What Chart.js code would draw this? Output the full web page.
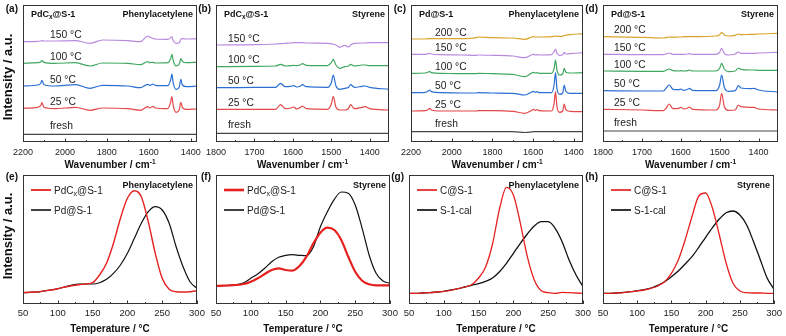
<!DOCTYPE html>
<html>
<head>
<meta charset="utf-8">
<script src="https://cdn.jsdelivr.net/npm/chart.js@4.4.1/dist/chart.umd.min.js"></script>
<style>
  html, body { margin: 0; padding: 0; background: #fff; }
  #fig { position: relative; width: 786px; height: 336px; overflow: hidden; }
  #fig canvas { position: absolute; left: 0; top: 0; }
</style>
</head>
<body>
<div id="fig"></div>
<script>
// ---- IR spectra (a)-(d): wavenumber / cm-1, stacked intensity (a.u.) ----
const wnA = [2200, 2130, 2115, 2110, 2100, 2050, 1950, 1880, 1820, 1700, 1640, 1605, 1595, 1580, 1570, 1510, 1495, 1490, 1483, 1470, 1455, 1447, 1440, 1420, 1370];
const aFresh = [7.7, 7.7, 7.7, 7.7, 7.7, 7.7, 7.7, 7.7, 7.7, 7.7, 7.7, 7.7, 7.7, 7.7, 7.7, 7.7, 7.7, 7.7, 7.7, 7.7, 7.7, 7.7, 7.7, 7.7, 7.7];
const a25 = [33.7, 34.7, 36.7, 39.3, 34.7, 33.3, 34.7, 31.7, 34, 33.3, 31.7, 35.3, 34, 35.7, 34, 33.3, 40.3, 45.3, 36, 29.7, 32, 39.7, 34.7, 32.7, 33];
const a50 = [56, 57, 58.7, 61.7, 57.3, 56, 57.3, 53.7, 56.7, 56, 54.3, 57.7, 56.7, 58, 56.7, 56.3, 62.7, 68, 58.7, 52.7, 54.7, 62.7, 57, 55.3, 56];
const a100 = [78.7, 79.3, 80, 81.3, 79.7, 78.7, 79.3, 76, 79, 78.7, 77.3, 80.3, 79.3, 79.7, 79, 79.3, 83.7, 87.7, 81.3, 76, 77.7, 83.3, 80.7, 79.3, 79.7];
const a150 = [100.3, 100.7, 101, 101.3, 101, 101, 101.3, 98.7, 102, 101.3, 100.3, 106, 104.7, 103.7, 103, 102.7, 104.3, 105.3, 101.3, 98.7, 99.3, 102.7, 103.3, 103, 103.3];

const wnB = [1800, 1700, 1645, 1632, 1620, 1605, 1598, 1590, 1580, 1575, 1565, 1510, 1500, 1495, 1488, 1478, 1465, 1455, 1450, 1440, 1420, 1412, 1400, 1350];
const bFresh = [8.7, 8.7, 8.7, 8.7, 8.7, 8.7, 8.7, 8.7, 8.7, 8.7, 8.7, 8.7, 8.7, 8.7, 8.7, 8.7, 8.7, 8.7, 8.7, 8.7, 8.7, 8.7, 8.7, 8.7];
const b25 = [32.7, 32.7, 32.7, 37.3, 33.3, 34, 35, 33, 34.7, 36, 33.3, 32.7, 38, 45.3, 34.7, 32, 32, 33.7, 37.3, 33.3, 34.7, 35.3, 33.3, 32];
const b50 = [54.3, 54.7, 54.7, 58.7, 55.3, 55.7, 56.3, 55, 56, 57.3, 55.3, 54.7, 59.3, 67, 56, 52.7, 53.7, 54.7, 57.3, 54.7, 55.7, 56, 54.7, 52.7];
const b100 = [75.3, 75.7, 76, 77.7, 76, 76.3, 76.7, 76.3, 77.3, 78.3, 76.7, 76.3, 79.3, 82.7, 77, 73.7, 75.3, 76, 77.7, 76, 77, 77, 76.3, 76.3];
const b150 = [97, 97.3, 98, 98.3, 98.7, 99, 99.3, 99.3, 99.3, 99.3, 99, 98.7, 98.3, 97.7, 97, 94.7, 96.7, 95, 97, 98.7, 99, 99, 99.3, 99.3];

const wnC = [2200, 2130, 2115, 2108, 2100, 2050, 1950, 1880, 1870, 1800, 1700, 1640, 1610, 1600, 1590, 1580, 1570, 1510, 1497, 1490, 1483, 1470, 1455, 1447, 1440, 1420, 1355];
const cFresh = [10.3, 10.3, 10.3, 10.3, 10.3, 10.3, 10.3, 10.3, 10.3, 10.3, 10.3, 9.5, 10, 10.3, 10.3, 10.3, 10.3, 10.3, 10.3, 10.3, 10.3, 10.3, 10.3, 10.3, 10.3, 10.3, 10.3];
const c25 = [31, 31.3, 32.7, 33.7, 32, 31, 31, 31, 31.3, 31.3, 30.7, 28.7, 31.3, 32.7, 31.7, 32.3, 31.3, 31, 38.7, 50.3, 35.3, 29.7, 30.7, 38, 32.7, 30.7, 30.3];
const c50 = [49.3, 49.7, 51, 52, 50.3, 49.3, 49, 49, 49.3, 49, 48.7, 47, 49.7, 50.7, 49.7, 50.3, 49.3, 49.3, 57, 69.3, 53.7, 47.7, 48.7, 57, 51, 48.7, 48.7];
const c100 = [68.7, 69, 70, 70.7, 69.3, 68.7, 68.3, 68.3, 68.7, 68.3, 67.7, 65.3, 68.7, 69.7, 69, 69.3, 68.7, 68.7, 73.7, 82, 72, 67, 68, 73.7, 70, 69, 69.3];
const c150 = [87.7, 87.7, 88.3, 88.7, 88, 87.3, 87, 86.7, 87, 86.7, 86, 84.3, 87, 87.7, 87, 87.3, 87, 87.3, 90.3, 93, 88.7, 86.7, 87.3, 89.7, 88, 88.3, 89.3];
const c200 = [103, 103, 103.3, 103.3, 103.3, 103.3, 103.3, 104.3, 105, 104.3, 104, 102.7, 104.7, 105.3, 105, 105, 105, 105.3, 105.7, 106, 105.7, 105.7, 106, 106.3, 106.7, 107.3, 108.3];

const wnD = [1800, 1700, 1645, 1638, 1630, 1620, 1605, 1600, 1592, 1582, 1578, 1570, 1510, 1500, 1495, 1488, 1478, 1460, 1452, 1445, 1420, 1412, 1400, 1350];
const dFresh = [11, 11, 11, 11, 11, 11, 11, 11, 11, 11, 11, 11, 11, 11, 11, 11, 11, 11, 11, 11, 11, 11, 11, 11];
const d25 = [32.7, 32, 31.3, 33.7, 38, 33.3, 33.7, 34.7, 33, 34, 35, 32.7, 32, 37, 48.7, 35.3, 31.7, 32, 37, 35.3, 34.7, 34.7, 33, 32];
const d50 = [51.3, 51, 51, 53.7, 57, 52.7, 52.3, 53, 51.7, 52.7, 53.7, 51.7, 51.3, 57, 67, 54.7, 50.7, 51.3, 56.3, 54, 53.3, 53.7, 52, 50];
const d100 = [71, 70.7, 70.7, 71.7, 73, 71.3, 71, 71.3, 71, 71.3, 72, 71, 71, 73.7, 78.7, 73, 70.3, 71, 74, 72.7, 72, 72, 71.7, 71.7];
const d150 = [87.7, 87.3, 87.3, 88, 89, 87.7, 87.7, 87.7, 87.7, 88, 88.3, 87.7, 87.7, 89.7, 93.7, 88.7, 87, 88, 90, 88.7, 88.7, 88.7, 89, 89.7];
const d200 = [105.3, 104.7, 104, 104.3, 105, 104.7, 105, 105, 105.3, 105.3, 105.3, 105.3, 106, 107.3, 109.7, 107, 106, 106.7, 108, 107.3, 107.7, 107.7, 108, 108.7];

// ---- TPD profiles (e)-(h): temperature / °C, intensity (a.u.) ----
const tempC = [50, 60, 70, 80, 90, 100, 110, 120, 130, 140, 150, 160, 170, 180, 190, 200, 210, 220, 230, 240, 250, 260, 270, 280, 290, 300];
const ePdCx = [11.3, 11.7, 12, 13, 14, 15.3, 17, 18.3, 19.3, 20, 21.3, 29, 40.7, 60.7, 85.7, 105.7, 113.3, 107.3, 82.3, 50.7, 25.7, 14.7, 12.3, 12, 12.3, 13.3];
const ePd = [11.3, 11.7, 12, 13, 14, 15.3, 17, 19, 20, 20, 20, 21.3, 24.7, 30.7, 39, 50.7, 65.7, 80.7, 92.3, 97.3, 94, 80.7, 57.3, 37.3, 22.3, 15.7];
const fPdCx = [18, 18.3, 18.7, 19, 20, 22.3, 25.7, 30, 34, 35.7, 34, 33.3, 38, 47.3, 60.7, 71.3, 76.3, 74, 64, 47.3, 32.3, 23.3, 19.7, 18.7, 18.7, 18.7];
const fPd = [18, 18.3, 18.7, 19.3, 21.3, 25.7, 30, 35.7, 42.3, 46.7, 48.7, 49.3, 48.7, 48.3, 57.3, 77.3, 92.3, 104.7, 112, 110.7, 99, 75.7, 49, 30.7, 23, 20.7];
const gC = [10.7, 10.7, 11, 11.3, 12, 12.7, 13.7, 15.3, 17, 19.3, 26, 37, 60, 95, 116.7, 109, 80.7, 47.3, 24, 13.3, 11.3, 10.7, 11.7, 11.3, 11, 10.7];
const gS1 = [10.7, 10.7, 11, 11.3, 12, 12.7, 14, 15.3, 17, 18.7, 20.3, 22.7, 26, 32.3, 40.7, 50.7, 60.7, 70, 78, 82.3, 82.3, 75.7, 62.3, 44, 29, 17.3];
const hC = [10.7, 10.7, 11, 11.3, 12.3, 13, 14, 15.7, 18, 22.3, 30.7, 44, 64, 87.3, 108, 111, 95.7, 69, 40.7, 20.7, 13, 11.3, 11, 11, 10.7, 10.7];
const hS1 = [10.7, 10.7, 11, 11.7, 12.3, 13.3, 14.3, 16, 18.7, 22.3, 27.3, 33, 40, 47.3, 56.7, 66.7, 76.3, 85, 91.3, 93, 89, 79, 62.3, 44, 25.7, 14.7];

// axis ticks
const wnTicksWide = [2200, 2000, 1800, 1600, 1400];
const wnMinorWide = [2100, 1900, 1700, 1500];
const wnTicksNarrow = [1800, 1700, 1600, 1500, 1400];
const wnMinorNarrow = [1750, 1650, 1550, 1450];
const tempTicks = [50, 100, 150, 200, 250, 300];
const tempMinor = [75, 125, 175, 225, 275];

const W = 786, H = 336, AXIS_H = 30;
const FONT = '"Liberation Sans", Arial, Helvetica, sans-serif';
const COL = {
  fresh: '#474747', red: '#e4484a', blue: '#2b6fd2', green: '#3fa760',
  purple: '#b88ade', gold: '#d8a52b', tpdRed: '#e5211f', tpdBlack: '#111111'
};

const irSet = (f, t25, t50, t100, t150, t200) => {
  const s = [
    { label: 'fresh', y: f, color: COL.fresh },
    { label: '25 \u00b0C', y: t25, color: COL.red },
    { label: '50 \u00b0C', y: t50, color: COL.blue },
    { label: '100 \u00b0C', y: t100, color: COL.green },
    { label: '150 \u00b0C', y: t150, color: COL.purple }
  ];
  if (t200) s.push({ label: '200 \u00b0C', y: t200, color: COL.gold });
  return s;
};

const panels = [
  { id: 'a', kind: 'ir', box: [23, 5, 197, 142], x: wnA, min: 1370, max: 2200, ticks: wnTicksWide, minor: wnMinorWide,
    sample: 'PdC_x@S-1', probe: 'Phenylacetylene', tagDx: 27, yTitle: true, series: irSet(aFresh, a25, a50, a100, a150) },
  { id: 'b', kind: 'ir', box: [216, 5, 389, 142], x: wnB, min: 1350, max: 1800, ticks: wnTicksNarrow, minor: wnMinorNarrow,
    sample: 'PdC_x@S-1', probe: 'Styrene', tagDx: 12, series: irSet(bFresh, b25, b50, b100, b150) },
  { id: 'c', kind: 'ir', box: [411, 5, 583, 142], x: wnC, min: 1355, max: 2200, ticks: wnTicksWide, minor: wnMinorWide,
    sample: 'Pd@S-1', probe: 'Phenylacetylene', tagDx: 24, series: irSet(cFresh, c25, c50, c100, c150, c200) },
  { id: 'd', kind: 'ir', box: [603, 5, 778, 142], x: wnD, min: 1350, max: 1800, ticks: wnTicksNarrow, minor: wnMinorNarrow,
    sample: 'Pd@S-1', probe: 'Styrene', tagDx: 11, series: irSet(dFresh, d25, d50, d100, d150, d200) },
  { id: 'e', kind: 'tpd', box: [23, 175, 197, 304], x: tempC, min: 50, max: 300, ticks: tempTicks, minor: tempMinor,
    probe: 'Phenylacetylene', yTitle: true,
    series: [{ label: 'PdC_x@S-1', y: ePdCx, color: COL.tpdRed, width: 1.4 }, { label: 'Pd@S-1', y: ePd, color: COL.tpdBlack, width: 1.2 }] },
  { id: 'f', kind: 'tpd', box: [216, 175, 390, 304], x: tempC, min: 50, max: 300, ticks: tempTicks, minor: tempMinor,
    probe: 'Styrene',
    series: [{ label: 'PdC_x@S-1', y: fPdCx, color: COL.tpdRed, width: 2.2 }, { label: 'Pd@S-1', y: fPd, color: COL.tpdBlack, width: 1.2 }] },
  { id: 'g', kind: 'tpd', box: [409, 175, 583, 304], x: tempC, min: 50, max: 300, ticks: tempTicks, minor: tempMinor,
    probe: 'Phenylacetylene',
    series: [{ label: 'C@S-1', y: gC, color: COL.tpdRed, width: 1.3 }, { label: 'S-1-cal', y: gS1, color: COL.tpdBlack, width: 1.3 }] },
  { id: 'h', kind: 'tpd', box: [603, 175, 778, 304], x: tempC, min: 50, max: 300, ticks: tempTicks, minor: tempMinor,
    probe: 'Styrene',
    series: [{ label: 'C@S-1', y: hC, color: COL.tpdRed, width: 1.3 }, { label: 'S-1-cal', y: hS1, color: COL.tpdBlack, width: 1.3 }] }
];

// "PdC_x@S-1" -> PdC + subscript x + @S-1
function nameParts(name, size, weight) {
  const i = name.indexOf('_');
  if (i < 0) return [[name, size, weight, 0]];
  return [[name.slice(0, i), size, weight, 0], [name[i + 1], size * 0.72, weight, size * 0.28], [name.slice(i + 2), size, weight, 0]];
}

function drawRich(ctx, parts, x, y, align) {
  let w = 0;
  parts.forEach(p => { ctx.font = `${p[2]} ${p[1]}px ${FONT}`; w += ctx.measureText(p[0]).width; });
  let cx = align === 'right' ? x - w : align === 'center' ? x - w / 2 : x;
  ctx.textAlign = 'left';
  parts.forEach(p => {
    ctx.font = `${p[2]} ${p[1]}px ${FONT}`;
    ctx.fillText(p[0], cx, y + p[3]);
    cx += ctx.measureText(p[0]).width;
  });
}

function decorFor(p) {
  return {
    id: 'decor',
    afterDraw(chart) {
      const ctx = chart.ctx, a = chart.chartArea, xs = chart.scales.x, ys = chart.scales.y;
      const top = p.kind === 'ir';
      ctx.save();

      // frame and inward ticks
      ctx.strokeStyle = '#333';
      ctx.lineWidth = 1;
      ctx.strokeRect(Math.round(a.left) + 0.5, Math.round(a.top) + 0.5, Math.round(a.right - a.left) - 1, Math.round(a.bottom - a.top) - 1);
      ctx.beginPath();
      p.ticks.forEach(v => {
        const px = Math.round(xs.getPixelForValue(v)) + 0.5;
        ctx.moveTo(px, a.bottom); ctx.lineTo(px, a.bottom - 3.5);
      });
      p.minor.forEach(v => {
        const px = Math.round(xs.getPixelForValue(v)) + 0.5;
        ctx.moveTo(px, a.bottom); ctx.lineTo(px, a.bottom - 2);
      });
      ctx.stroke();

      ctx.fillStyle = '#111';
      ctx.textBaseline = 'alphabetic';

      // panel letter
      ctx.font = `bold 10px ${FONT}`;
      ctx.textAlign = 'right';
      ctx.fillText(`(${p.id})`, a.left - 5, a.top + (top ? 6.5 : 4.5));

      // probe molecule, top right
      ctx.font = `bold 9px ${FONT}`;
      ctx.textAlign = 'right';
      ctx.fillText(p.probe, a.right - 4, a.top + (top ? 11.5 : 12.5));

      if (top) {
        drawRich(ctx, nameParts(p.sample, 9, 'bold'), a.left + 8, a.top + 11.5, 'left');
        // temperature tags just above each trace
        ctx.fillStyle = '#222';
        p.series.forEach(s => {
          ctx.font = `normal 10.3px ${FONT}`;
          ctx.textAlign = 'left';
          const yy = ys.getPixelForValue(s.y[0]) - (s.label === 'fresh' ? 5 : 3.5);
          ctx.fillText(s.label, a.left + p.tagDx, yy);
        });
        ctx.fillStyle = '#111';
        drawRich(ctx, [['Wavenumber / cm', 10, 'bold', 0], ['-1', 6.5, 'bold', -4]], (a.left + a.right) / 2, 168, 'center');
      } else {
        // legend
        p.series.forEach((s, i) => {
          const ly = a.top + (i === 0 ? 15 : 35);
          ctx.strokeStyle = s.color;
          ctx.lineWidth = s.width + 0.4;
          ctx.beginPath();
          ctx.moveTo(a.left + 8, ly); ctx.lineTo(a.left + 28, ly);
          ctx.stroke();
          ctx.fillStyle = '#222';
          drawRich(ctx, nameParts(s.label, 10, 'normal'), a.left + 31, ly + 3.5, 'left');
        });
        ctx.fillStyle = '#111';
        drawRich(ctx, [['Temperature / \u00b0C', 10, 'bold', 0]], (a.left + a.right) / 2, 332, 'center');
      }

      if (p.yTitle) {
        ctx.save();
        ctx.translate(8, top ? 77 : 236);
        ctx.rotate(-Math.PI / 2);
        ctx.font = `bold 13px ${FONT}`;
        ctx.textAlign = 'center';
        ctx.textBaseline = 'middle';
        ctx.fillStyle = '#111';
        ctx.fillText('Intensity / a.u.', 0, 0);
        ctx.restore();
      }
      ctx.restore();
    }
  };
}

const fig = document.getElementById('fig');

panels.forEach(p => {
  const cv = document.createElement('canvas');
  cv.width = W;
  cv.height = H;
  fig.appendChild(cv);
  const [l, t, r, b] = p.box;
  const ymax = b - t;
  const datasets = p.series.map(s => ({
    label: s.label,
    data: p.x.map((xv, i) => ({ x: xv, y: s.y[i] })),
    borderColor: s.color,
    borderWidth: s.width || 1.2,
    pointRadius: 0,
    fill: false,
    cubicInterpolationMode: 'monotone'
  }));
  new Chart(cv.getContext('2d'), {
    type: 'line',
    data: { datasets },
    options: {
      responsive: false,
      animation: false,
      events: [],
      layout: { padding: { left: l, top: t, right: W - r, bottom: H - b - AXIS_H } },
      scales: {
        x: {
          type: 'linear',
          reverse: p.kind === 'ir',
          min: p.min,
          max: p.max,
          afterFit: s => { s.height = AXIS_H; },
          afterBuildTicks: s => { s.ticks = p.ticks.map(v => ({ value: v })); },
          grid: { display: false, drawTicks: false },
          border: { display: false },
          ticks: {
            padding: p.kind === 'ir' ? 5 : 4,
            color: '#222',
            autoSkip: false,
            maxRotation: 0,
            font: { family: FONT, size: p.kind === 'ir' ? 9 : 9.5 },
            callback: v => String(v)
          }
        },
        y: { display: false, min: 0, max: ymax }
      },
      plugins: { legend: { display: false }, tooltip: { enabled: false } }
    },
    plugins: [decorFor(p)]
  });
});
</script>
</body>
</html>
